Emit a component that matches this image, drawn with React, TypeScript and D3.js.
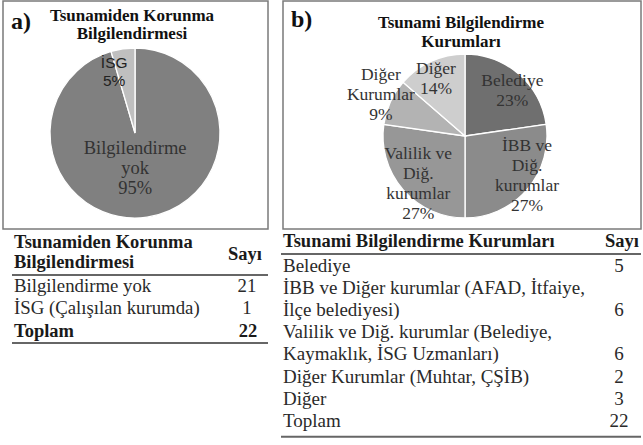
import * as d3 from 'd3';

// panel a: tsunami protection training
const infoCounts = [21, 1];
const infoPieLabels = [['Bilgilendirme', 'yok'], ['İSG']];
const infoTableLabels = ['Bilgilendirme yok', 'İSG (Çalışılan kurumda)'];

// panel b: informing institutions
const instCounts = [5, 6, 6, 2, 3];
const instPieLabels = [['Belediye'], ['İBB ve', 'Diğ.', 'kurumlar'], ['Valilik ve', 'Diğ.', 'kurumlar'], ['Diğer', 'Kurumlar'], ['Diğer']];
const instTableRows = [
  ['Belediye'],
  ['İBB ve Diğer kurumlar (AFAD, İtfaiye,', 'İlçe belediyesi)'],
  ['Valilik ve Diğ. kurumlar (Belediye,', 'Kaymaklık, İSG Uzmanları)'],
  ['Diğer Kurumlar (Muhtar, ÇŞİB)'],
  ['Diğer'],
];

const SERIF = 'Liberation Serif';
const SANS = 'Liberation Sans';

const infoColors = ['#808080', '#bfbfbf'];
const instColors = ['#6f6f6f', '#8b8b8b', '#979797', '#b3b3b3', '#cecece'];

// label placement: radius and angle nudge (deg) from slice middle
const infoLabelPos = [{ r: 35, da: 8 }, { r: 65, da: -10.5 }];
const instLabelPos = [{ r: 66, da: 5 }, { r: 73, da: -9 }, { r: 66, da: -4 }, { r: 94, da: 2 }, { r: 65, da: -2 }];

function pct(v: number, total: number) {
  return `${Math.round((v / total) * 100)}%`;
}

function Pie({ cx, cy, radius, counts, colors, lines, pos, lineH, font, font2 }: any) {
  const total = d3.sum(counts);
  const arcs = d3.pie<number>().sort(null).value(d => d)(counts);
  const arc = d3.arc<d3.PieArcDatum<number>>().innerRadius(0).outerRadius(radius);
  return (
    <g transform={`translate(${cx},${cy})`}>
      {arcs.map((a, i) => (
        <path key={i} d={arc(a) || undefined} fill={colors[i]} stroke="#fff" strokeWidth={1.3} />
      ))}
      {arcs.map((a, i) => {
        const mid = (a.startAngle + a.endAngle) / 2 + (pos[i].da * Math.PI) / 180;
        const x = Math.sin(mid) * pos[i].r;
        const y = -Math.cos(mid) * pos[i].r;
        const all = [...lines[i], pct(counts[i], total)];
        const f = i === 1 && font2 ? font2 : font;
        const lh = i === 1 && font2 ? 18 : lineH;
        const top = y - ((all.length - 1) * lh) / 2 + f.size * 0.35;
        return (
          <text key={i} x={x} textAnchor="middle" style={{ fontFamily: f.family }} fontSize={f.size} fill={f.color}>
            {all.map((t, j) => (
              <tspan key={j} x={x} y={top + j * lh}>{t}</tspan>
            ))}
          </text>
        );
      })}
    </g>
  );
}

export default function App() {
  const infoTotal = d3.sum(infoCounts);
  const instTotal = d3.sum(instCounts);

  // table b row baselines
  let rowY = 272;
  const instRows = instTableRows.map(lines => {
    const ys = lines.map(() => { const y = rowY; rowY += 22.1; return y; });
    return { lines, ys };
  });

  const serif = { fontFamily: SERIF };

  return (
    <svg width={643} height={445} style={{ position: 'absolute', left: 0, top: 0, background: '#fff' }}>
      <rect x={0} y={0} width={643} height={445} fill="#fff" />
      {/* panel a */}
      <rect x={3} y={1} width={265} height={228} fill="#fff" stroke="#7a7a7a" strokeWidth={1.5} />
      <text x={11} y={29} style={serif} fontWeight="bold" fontSize={24} fill="#111">a)</text>
      <text x={132} textAnchor="middle" style={serif} fontWeight="bold" fontSize={17} fill="#111">
        <tspan x={132} y={21}>Tsunamiden Korunma</tspan>
        <tspan x={132} y={38.5}>Bilgilendirmesi</tspan>
      </text>
      <Pie cx={135} cy={133} radius={85} counts={infoCounts} colors={infoColors} lines={infoPieLabels}
        pos={infoLabelPos} lineH={20}
        font={{ family: SERIF, size: 18.5, color: '#333' }}
        font2={{ family: SANS, size: 15.5, color: '#222' }} />

      {/* panel b */}
      <rect x={283} y={1} width={358} height={228} fill="#fff" stroke="#7a7a7a" strokeWidth={1.5} />
      <text x={291} y={27} style={serif} fontWeight="bold" fontSize={24} fill="#111">b)</text>
      <text x={461} textAnchor="middle" style={serif} fontWeight="bold" fontSize={17} fill="#111">
        <tspan x={461} y={28}>Tsunami Bilgilendirme</tspan>
        <tspan x={461} y={47}>Kurumları</tspan>
      </text>
      <Pie cx={465} cy={136} radius={82} counts={instCounts} colors={instColors} lines={instPieLabels}
        pos={instLabelPos} lineH={20}
        font={{ family: SERIF, size: 17.5, color: '#333' }} />

      {/* table a */}
      <g style={serif} fill="#1a1a1a">
        <text x={14} y={248} fontWeight="bold" fontSize={18.5}>Tsunamiden Korunma</text>
        <text x={14} y={268} fontWeight="bold" fontSize={18.5}>Bilgilendirmesi</text>
        <text x={245} y={260} textAnchor="middle" fontWeight="bold" fontSize={18.5}>Sayı</text>
        <line x1={12} x2={268} y1={275} y2={275} stroke="#666" strokeWidth={2} />
        {infoCounts.map((c, i) => (
          <g key={i}>
            <text x={14} y={292 + i * 21.5} fontSize={18.8} fill="#2a2a2a">{infoTableLabels[i]}</text>
            <text x={247} y={292 + i * 21.5} textAnchor="middle" fontSize={18.8} fill="#2a2a2a">{c}</text>
          </g>
        ))}
        <text x={14} y={337} fontWeight="bold" fontSize={18.5}>Toplam</text>
        <text x={248} y={337} textAnchor="middle" fontWeight="bold" fontSize={18.5}>{infoTotal}</text>
        <line x1={12} x2={268} y1={343} y2={343} stroke="#666" strokeWidth={2} />
      </g>

      {/* table b */}
      <g style={serif} fill="#1a1a1a">
        <text x={283} y={247} fontWeight="bold" fontSize={18.5}>Tsunami Bilgilendirme Kurumları</text>
        <text x={622} y={247} textAnchor="middle" fontWeight="bold" fontSize={18.5}>Sayı</text>
        <line x1={281} x2={641} y1={254} y2={254} stroke="#666" strokeWidth={2} />
        {instRows.map((r, i) => (
          <g key={i}>
            {r.lines.map((t, j) => (
              <text key={j} x={283} y={r.ys[j]} fontSize={19} fill="#2a2a2a">{t}</text>
            ))}
            <text x={619} y={r.ys[r.ys.length - 1]} textAnchor="middle" fontSize={19} fill="#2a2a2a">{instCounts[i]}</text>
          </g>
        ))}
        <text x={283} y={rowY} fontSize={19} fill="#2a2a2a">Toplam</text>
        <text x={619} y={rowY} textAnchor="middle" fontSize={19} fill="#2a2a2a">{instTotal}</text>
        <line x1={281} x2={641} y1={rowY + 10} y2={rowY + 10} stroke="#666" strokeWidth={2} />
      </g>
    </svg>
  );
}
